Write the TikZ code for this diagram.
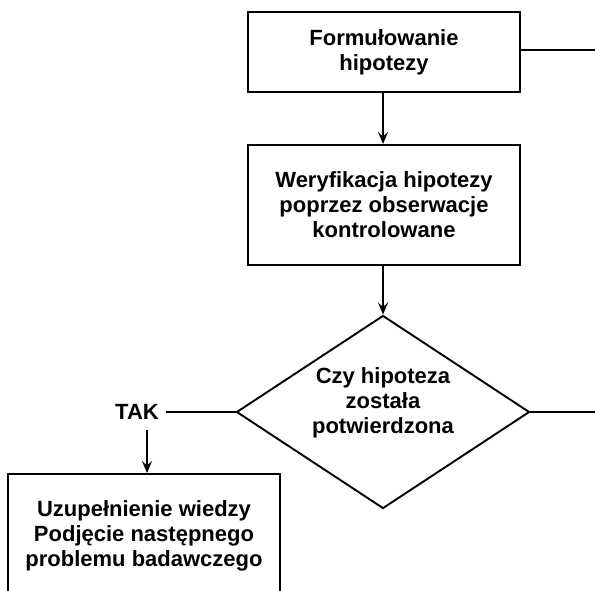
\documentclass[tikz,border=0pt]{standalone}
\usepackage{fontspec}
\setmainfont{Liberation Sans}
\usetikzlibrary{shapes.geometric,arrows.meta}
\begin{document}
\begin{tikzpicture}[x=1pt,y=-1pt, line width=1.9pt,
  txt/.style={font=\bfseries\fontsize{22}{25}\selectfont, align=center},
  box/.style={draw, txt, rectangle, minimum width=272pt, inner sep=0pt},
  decision/.style={draw, diamond, minimum width=293pt, minimum height=193pt, inner sep=0pt},
  arr/.style={-{Stealth[length=12pt,width=10pt,inset=4.5pt]}}
]
\useasboundingbox (0,0) rectangle (595,590);
\clip (0,0) rectangle (595,590);
\node[box, minimum height=80pt] (f) at (384,52) {Formułowanie\\hipotezy};
\node[box, minimum height=120pt] (w) at (384,205) {Weryfikacja hipotezy\\poprzez obserwacje\\kontrolowane};
\node[decision] (d) at (383,412) {};
\node[txt] (dt) at (383,403) {Czy hipoteza\\została\\potwierdzona};
\node[txt, inner sep=0pt] (tak) at (137,412) {TAK};
\node[box, minimum height=124pt] (u) at (144,536) {Uzupełnienie wiedzy\\Podjęcie następnego\\problemu badawczego};
\coordinate (fr) at (600,50);
\coordinate (dr) at (600,412);
\coordinate (tk) at (147,430);
\coordinate (fe) at ([yshift=2pt]f.east);
\draw (fe) -- (fe -| fr);
\draw (d.east) -- (dr);
\draw[arr] (f.south -| d.north) -- (w.north -| d.north);
\draw[arr] (w.south -| d.north) -- (d.north);
\draw ([xshift=6pt]tak.east) -- (d.west);
\draw[arr] (tk) -- (tk |- u.north);
\end{tikzpicture}
\end{document}
